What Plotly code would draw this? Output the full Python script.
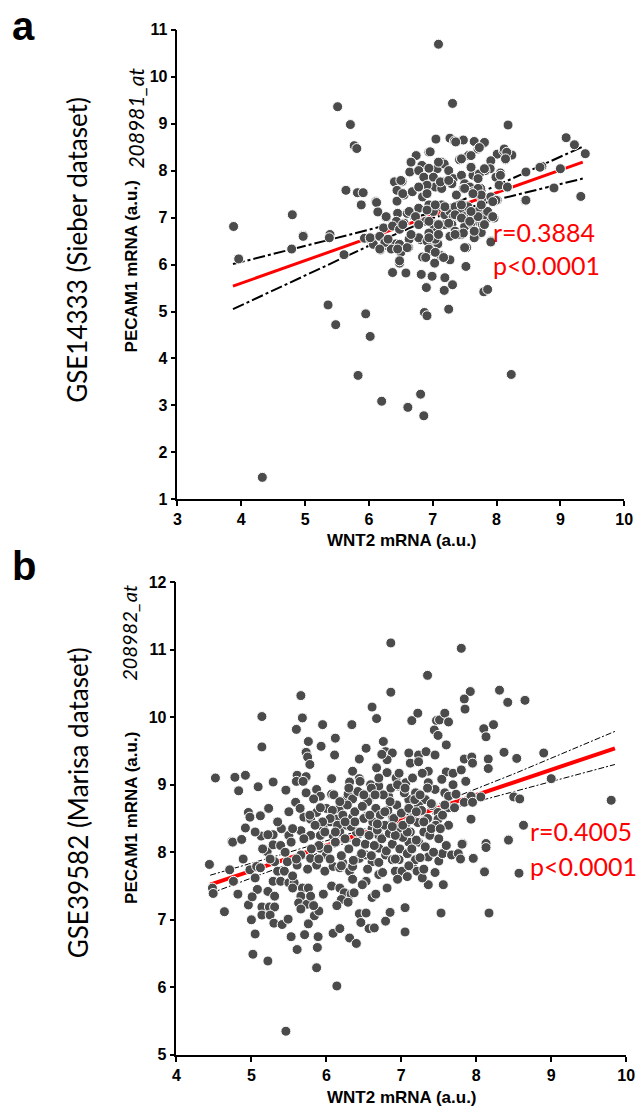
import plotly.graph_objects as go

# ---------------- Panel a: GSE14333 (Sieber dataset) ----------------
a_points = [
    (5.51, 9.36), (5.71, 8.98), (5.77, 8.53), (5.81, 8.47), (3.88, 6.81), (4.80, 7.06), (4.97, 6.62),
    (5.39, 6.64), (5.38, 6.57), (5.64, 7.58), (5.82, 7.53), (5.91, 7.53), (5.88, 7.27), (6.11, 7.34),
    (6.14, 7.13), (6.27, 7.00), (6.40, 7.76), (6.52, 7.77), (6.45, 7.57), (6.44, 7.35), (6.55, 7.48),
    (6.23, 6.78), (7.09, 10.69), (7.31, 9.43), (8.18, 8.97), (9.09, 8.70), (9.22, 8.55), (9.39, 8.36),
    (7.05, 8.67), (7.27, 8.69), (7.34, 8.63), (7.48, 8.65), (7.65, 8.62), (7.80, 8.58), (6.74, 8.32),
    (6.94, 8.39), (7.56, 8.32), (7.42, 8.23), (7.71, 8.46), (8.01, 8.35), (8.11, 8.42), (8.24, 8.33),
    (8.14, 8.23), (7.91, 8.21), (7.90, 8.04), (7.82, 8.00), (8.06, 7.95), (8.01, 7.83), (8.46, 7.97),
    (8.71, 8.09), (9.00, 8.04), (8.17, 7.64), (8.90, 7.63), (8.45, 7.36), (9.32, 7.45), (8.01, 7.37),
    (7.75, 7.62), (7.77, 7.41), (7.91, 7.00), (7.96, 6.99), (7.91, 6.50),
    (3.96, 6.12), (4.79, 6.33), (4.97, 6.60), (5.61, 6.21), (5.36, 5.14), (5.48, 4.72), (5.95, 4.95),
    (6.02, 4.47), (5.83, 3.64), (6.20, 3.09), (6.61, 2.96), (6.81, 3.24), (6.86, 2.78), (8.23, 3.66),
    (4.33, 1.47),
    (5.93, 6.56), (6.03, 6.53), (6.07, 6.43), (6.18, 6.31), (6.28, 6.40), (6.42, 6.44), (6.35, 6.33),
    (6.50, 6.26), (6.62, 6.36), (6.25, 6.53), (6.48, 6.03), (6.37, 5.83), (6.58, 5.82),
    (6.82, 5.79), (6.89, 6.16), (6.84, 6.16), (6.99, 5.75), (7.03, 6.03), (7.13, 6.19), (7.19, 5.72),
    (7.27, 6.10), (7.31, 5.57), (7.18, 5.45), (7.25, 5.05), (6.90, 5.51), (6.87, 4.98), (6.91, 4.91),
    (7.52, 5.96), (7.53, 6.36), (7.91, 6.48), (7.80, 5.42), (7.86, 5.47), (6.81, 6.53), (6.94, 6.48),
    (7.08, 6.44), (6.99, 6.28), (7.35, 6.64), (7.45, 6.64), (7.71, 6.64),
    # dense cluster
    (7.36, 8.61), (7.81, 8.60), (7.73, 8.49), (8.12, 8.46), (8.16, 8.39), (8.14, 8.25), (7.45, 8.25),
    (7.60, 8.32), (6.96, 8.40), (6.66, 8.18), (6.83, 8.11), (6.64, 7.97), (6.78, 8.00), (6.94, 8.04),
    (7.07, 8.04), (7.14, 8.18), (7.18, 8.14), (7.25, 8.00), (6.86, 7.86), (7.01, 7.86), (7.18, 7.76),
    (7.04, 7.65), (6.91, 7.69), (7.25, 7.79), (7.32, 7.83), (7.45, 7.90), (7.60, 8.07), (7.63, 7.90),
    (7.50, 7.72), (7.58, 7.65), (7.73, 7.93), (7.81, 8.04), (7.99, 7.86), (8.06, 7.90), (8.04, 7.69),
    (8.17, 7.65), (6.52, 7.77), (6.44, 7.58), (6.53, 7.51), (6.68, 7.55), (6.78, 7.65), (6.84, 7.44),
    (6.91, 7.51), (7.14, 7.62), (7.30, 7.72), (7.37, 7.48), (7.48, 7.62), (7.63, 7.55), (7.71, 7.62),
    (7.76, 7.48), (7.91, 7.44), (7.99, 7.37), (7.94, 7.34), (8.68, 8.07), (8.46, 7.37),
    (6.12, 7.32), (6.14, 7.12), (6.27, 7.02), (6.45, 7.09), (6.60, 7.09), (6.73, 7.02), (6.55, 6.88),
    (6.43, 6.92), (6.37, 6.82), (6.48, 6.75), (6.78, 7.20), (6.94, 7.27), (7.01, 7.13), (7.14, 7.27),
    (7.19, 7.06), (7.27, 7.13), (7.35, 7.23), (7.32, 7.02), (7.45, 7.13), (7.55, 7.23), (7.50, 7.02),
    (7.60, 7.06), (7.73, 7.16), (7.78, 7.02), (7.71, 6.92), (7.86, 7.13), (7.94, 7.02), (6.89, 6.92),
    (7.01, 6.85), (7.07, 6.71), (6.94, 6.67), (7.19, 6.85), (7.30, 6.85), (7.35, 6.71), (7.45, 6.64),
    (7.50, 6.81), (7.60, 6.88), (7.78, 6.85), (7.76, 6.68), (6.02, 6.57), (6.17, 6.60), (6.25, 6.47),
    (6.17, 6.33), (6.30, 6.54), (6.63, 6.54), (6.78, 6.57), (6.91, 6.50), (7.04, 6.54), (7.27, 6.60),
    (7.40, 6.64), (6.48, 6.43), (6.60, 6.36), (6.94, 6.33), (7.04, 6.26), (7.17, 6.15), (6.89, 6.15),
    (7.50, 6.36), (7.65, 6.57), (6.48, 6.08), (6.45, 6.33),
    (6.63, 7.13), (6.73, 7.02), (6.94, 6.92), (7.09, 6.85), (7.25, 6.88), (7.35, 7.06), (7.45, 6.99),
    (7.58, 6.92), (7.71, 7.02), (7.81, 6.85), (7.65, 6.71), (7.48, 6.67), (7.35, 6.64), (7.09, 6.64),
    (6.94, 6.57), (6.66, 6.64), (6.78, 6.85), (6.53, 6.85), (7.60, 7.13), (7.45, 7.27), (7.76, 7.27),
    (7.19, 7.23), (7.04, 7.27), (6.91, 7.16), (6.66, 8.18), (6.50, 7.79), (6.94, 8.05), (7.09, 8.18),
    (7.12, 7.76), (7.25, 7.79), (7.60, 8.07), (7.71, 7.83), (7.50, 7.62), (7.63, 7.51),
]
a_x = [p[0] for p in a_points]
a_y = [p[1] for p in a_points]

a_fit_x = [3.87, 5.0, 6.0, 7.0, 8.0, 9.35]
a_fit_y = [5.54, 6.08, 6.57, 7.05, 7.53, 8.18]
a_upper = [6.01, 6.40, 6.74, 7.11, 7.68, 8.51]
a_lower = [5.05, 5.76, 6.40, 6.99, 7.38, 7.83]

# ---------------- Panel b: GSE39582 (Marisa dataset) ----------------
b_points = [
    (6.86, 11.10), (6.86, 10.37), (5.66, 10.32), (5.14, 10.01), (5.68, 9.99), (6.61, 10.15), (6.67, 9.98),
    (5.95, 9.89), (6.34, 9.89), (5.60, 9.82), (5.14, 9.56), (5.76, 9.64), (5.93, 9.57), (6.12, 9.69),
    (6.11, 9.44), (5.73, 9.48), (5.75, 9.41), (5.78, 9.30), (6.53, 9.54), (6.76, 9.64), (6.79, 9.49),
    (6.88, 9.47), (6.81, 9.37), (6.74, 9.45), (6.44, 9.38), (6.35, 9.20), (6.44, 9.09), (6.31, 9.04),
    (6.07, 9.09), (4.52, 9.10), (4.78, 9.11), (4.92, 9.14), (5.29, 9.04), (4.83, 8.91), (5.09, 8.97),
    (5.61, 9.14), (5.73, 9.12), (5.60, 9.05), (5.69, 9.05), (5.46, 8.92), (5.59, 8.74), (5.73, 8.88),
    (5.87, 8.93), (5.92, 8.83), (6.07, 8.86), (6.27, 8.79), (6.29, 8.86), (6.44, 8.88), (6.59, 9.00),
    (6.67, 9.25), (6.81, 9.18), (6.93, 9.10), (5.23, 8.65), (4.96, 8.59), (4.98, 8.52), (5.12, 8.54),
    (4.92, 8.36), (4.74, 8.16), (4.87, 8.19), (5.40, 8.35), (5.50, 8.25), (5.29, 8.26), (5.13, 8.24),
    (5.22, 8.26), (5.70, 8.52), (5.79, 8.49), (5.87, 8.59), (6.00, 8.65), (6.17, 8.64), (6.35, 8.52),
    (6.53, 8.53), (6.66, 8.61), (6.79, 8.59), (6.88, 8.52), (6.14, 8.49), (6.05, 8.45), (5.92, 8.66),
    (5.83, 8.79), (5.66, 8.32), (5.79, 8.25), (5.96, 8.35), (6.09, 8.25), (6.27, 8.40), (6.40, 8.30),
    (6.61, 8.35), (6.70, 8.25), (6.83, 8.40), (6.96, 8.30), (5.92, 8.25), (6.18, 8.30), (6.35, 8.79),
    (6.70, 8.98), (6.83, 8.83), (6.57, 8.79), (6.96, 8.98),
    (7.80, 11.02), (7.35, 10.62), (7.92, 10.38), (7.84, 10.27), (7.85, 10.12), (8.31, 10.40), (8.42, 10.22),
    (8.65, 10.25), (7.14, 9.95), (7.22, 10.06), (7.47, 9.95), (7.51, 9.96), (7.58, 10.06), (7.63, 9.93),
    (7.44, 9.81), (7.49, 9.73), (8.10, 9.83), (8.23, 9.89), (8.13, 9.71), (7.60, 9.59), (7.10, 9.47),
    (7.23, 9.44), (7.33, 9.49), (7.45, 9.44), (7.12, 9.32), (7.23, 9.34), (7.84, 9.38), (7.94, 9.41),
    (7.95, 9.32), (8.16, 9.38), (8.37, 9.48), (8.54, 9.39), (8.90, 9.47), (8.16, 9.24), (7.36, 9.20),
    (7.60, 9.19), (7.69, 9.17), (7.80, 9.22), (9.00, 9.09), (9.80, 8.77), (7.54, 9.08), (7.69, 9.00),
    (7.86, 9.05), (7.58, 8.88), (7.63, 8.83), (7.73, 8.86), (8.06, 8.82), (7.93, 8.83), (7.84, 8.74),
    (7.95, 8.74), (8.50, 8.82), (8.58, 8.79), (6.97, 9.17), (7.06, 9.03), (7.15, 9.10), (7.28, 9.17),
    (7.36, 9.03), (7.45, 8.93), (7.19, 8.88), (7.10, 8.78), (7.32, 8.78), (7.23, 8.69), (7.41, 8.69),
    (7.49, 8.59), (7.63, 8.66), (7.71, 8.66), (7.36, 8.49), (7.49, 8.49), (7.63, 8.40), (7.93, 8.49),
    (7.45, 8.40), (8.43, 8.19), (8.63, 8.40), (7.82, 8.13), (8.13, 8.13),
    (4.44, 7.82), (4.48, 7.47), (4.49, 7.39), (4.64, 7.12), (4.71, 7.74), (4.76, 7.57), (4.82, 7.38),
    (4.89, 7.90), (4.75, 8.15), (4.87, 8.19), (4.96, 7.22), (5.00, 7.00), (5.05, 6.79), (5.02, 6.49),
    (5.22, 6.39), (4.98, 7.74), (5.07, 7.79), (5.12, 7.77), (5.05, 7.62), (5.08, 7.45), (5.01, 7.34),
    (5.22, 7.42), (5.31, 7.35), (5.14, 7.19), (5.24, 7.19), (5.31, 7.19), (5.14, 7.07), (5.25, 7.07),
    (5.30, 6.95), (5.41, 6.93), (5.49, 7.01), (5.53, 6.75), (5.61, 6.56), (5.71, 6.78), (5.76, 6.94),
    (5.84, 7.06), (5.90, 7.13), (5.89, 6.75), (5.88, 6.59), (5.87, 6.29), (6.14, 6.02), (5.46, 5.35),
    (5.21, 8.01), (5.29, 8.11), (5.39, 8.10), (5.53, 8.15), (5.31, 7.86), (5.35, 7.72), (5.44, 7.72),
    (5.29, 7.57), (5.39, 7.57), (5.50, 7.55), (5.57, 7.55), (5.55, 7.47), (5.68, 7.47), (5.76, 7.47),
    (5.66, 7.35), (5.63, 7.25), (5.74, 7.23), (5.79, 7.35), (5.66, 7.16), (5.83, 7.21), (5.48, 7.86),
    (5.61, 7.81), (5.66, 7.96), (5.79, 7.91), (5.92, 8.06), (6.00, 7.96), (5.87, 7.81), (5.98, 7.72),
    (6.09, 7.79), (6.18, 7.77), (6.22, 7.84), (6.31, 7.72), (6.35, 7.79), (6.44, 7.91), (6.53, 7.96),
    (6.61, 7.86), (6.70, 8.06), (6.79, 7.96), (6.88, 7.89), (6.92, 7.72), (5.96, 7.38), (6.07, 7.50),
    (6.18, 7.47), (6.24, 7.40), (6.33, 7.38), (6.37, 7.40), (6.20, 7.30), (6.14, 7.21), (6.29, 7.26),
    (6.44, 7.09), (6.53, 7.10), (6.46, 6.96), (6.57, 6.87), (6.64, 6.88), (6.79, 6.98), (6.85, 7.11),
    (6.61, 7.33), (6.66, 7.38), (6.81, 7.47), (6.53, 7.57), (6.48, 7.52), (6.70, 7.67), (6.09, 6.80),
    (6.18, 6.87), (6.31, 6.73), (6.40, 6.65),
    (7.81, 8.12), (8.13, 8.07), (8.43, 8.18), (7.36, 7.93), (7.50, 7.87), (7.55, 7.98), (7.67, 7.96),
    (7.76, 7.98), (7.79, 7.90), (7.96, 7.91), (8.11, 7.71), (8.57, 7.69), (7.36, 7.52), (7.56, 7.52),
    (7.05, 7.18), (7.53, 7.10), (8.17, 7.10), (7.05, 6.82), (6.97, 7.89), (7.01, 7.72), (7.08, 7.64),
    (7.15, 7.79), (7.21, 7.72), (7.28, 7.62), (7.10, 8.15), (7.23, 8.15), (7.19, 7.89),
    # dense core
    (6.02, 8.05), (6.08, 8.62), (6.12, 8.15), (6.15, 8.40), (6.20, 7.95), (6.22, 8.55), (6.25, 8.20),
    (6.28, 8.70), (6.30, 8.05), (6.33, 8.38), (6.36, 7.88), (6.38, 8.60), (6.40, 8.15), (6.42, 8.90),
    (6.45, 8.30), (6.47, 7.98), (6.50, 8.50), (6.52, 8.12), (6.55, 8.75), (6.57, 8.25), (6.60, 7.95),
    (6.62, 8.45), (6.64, 8.10), (6.66, 8.65), (6.68, 8.33), (6.70, 7.85), (6.72, 8.55), (6.74, 8.20),
    (6.76, 8.85), (6.78, 8.40), (6.80, 8.02), (6.82, 8.62), (6.84, 8.28), (6.86, 8.95), (6.88, 8.12),
    (6.90, 8.50), (6.92, 7.90), (6.94, 8.70), (6.96, 8.35), (6.98, 8.05), (7.00, 8.58), (7.02, 8.22),
    (7.04, 8.88), (7.06, 8.42), (7.08, 7.98), (7.10, 8.65), (7.12, 8.30), (7.14, 8.05), (7.16, 8.52),
    (7.18, 8.78), (7.20, 8.18), (7.22, 8.44), (7.25, 7.92), (7.27, 8.62), (7.30, 8.30), (7.32, 8.08),
    (7.35, 8.50), (7.38, 8.25), (7.40, 8.72), (7.43, 8.00), (7.46, 8.40), (7.50, 8.20), (7.55, 8.55),
    (7.60, 8.10), (6.10, 8.85), (6.18, 8.75), (6.30, 8.95), (6.45, 9.05), (6.60, 8.95), (6.70, 9.10),
    (6.85, 8.75), (6.95, 9.00), (7.05, 8.95), (7.15, 9.10), (7.25, 8.85), (7.35, 8.95), (6.05, 7.90),
    (6.20, 7.80), (6.35, 7.60), (6.55, 7.75), (6.75, 7.70), (6.95, 7.60), (7.10, 7.80), (7.30, 7.75),
    (7.45, 7.70), (6.65, 8.85), (6.50, 8.85), (6.38, 8.45), (6.58, 8.55), (6.78, 8.60), (6.92, 8.25),
    (7.08, 8.30), (7.20, 8.60), (7.30, 8.45), (7.40, 8.35), (7.52, 8.35), (7.58, 8.70), (6.48, 8.68),
    (6.68, 8.42), (6.88, 8.38), (7.02, 8.40), (7.12, 8.48), (6.25, 8.45), (6.12, 8.30), (6.05, 8.50),
    (5.98, 8.30), (5.90, 8.10), (5.95, 8.45), (5.45, 8.00), (5.55, 8.35), (5.60, 7.90), (5.70, 8.20),
    (5.75, 7.75), (5.80, 8.05), (5.85, 8.40), (5.90, 7.90), (5.35, 8.45), (5.25, 7.90), (5.15, 8.05),
    (5.05, 8.30), (5.55, 7.65), (5.65, 8.65), (5.50, 8.60), (5.78, 8.55),
]
b_x = [p[0] for p in b_points]
b_y = [p[1] for p in b_points]

b_fit_x = [4.45, 5.5, 6.5, 7.5, 8.5, 9.85]
b_fit_y = [7.52, 7.91, 8.29, 8.66, 9.03, 9.54]
b_upper = [7.66, 8.00, 8.34, 8.72, 9.16, 9.79]
b_lower = [7.39, 7.83, 8.24, 8.60, 8.90, 9.30]

W, H = 644, 1120
MARKER = "#4b4b4b"
BOLD = "Liberation Sans, Arial, sans-serif"
CAL = "Lato, Open Sans, sans-serif"

fig = go.Figure()

def add_panel(xref, yref, fx, fy, up, lo, px, py, band_w, band_dash, red_w):
    fig.add_trace(go.Scatter(x=fx, y=up, mode="lines", xaxis=xref, yaxis=yref,
                             line=dict(color="black", width=band_w, dash=band_dash), hoverinfo="skip"))
    fig.add_trace(go.Scatter(x=fx, y=lo, mode="lines", xaxis=xref, yaxis=yref,
                             line=dict(color="black", width=band_w, dash=band_dash), hoverinfo="skip"))
    fig.add_trace(go.Scatter(x=fx, y=fy, mode="lines", xaxis=xref, yaxis=yref,
                             line=dict(color="#ff0000", width=red_w), hoverinfo="skip"))
    fig.add_trace(go.Scatter(x=px, y=py, mode="markers", xaxis=xref, yaxis=yref,
                             marker=dict(size=10, color=MARKER, line=dict(color="white", width=1))))

add_panel("x", "y", a_fit_x, a_fit_y, a_upper, a_lower, a_x, a_y, 2, "12px,3px,3px,3px", 3)
add_panel("x2", "y2", b_fit_x, b_fit_y, b_upper, b_lower, b_x, b_y, 1, "6px,2px,2px,2px", 4)

def pxx(v):
    return v / W

def pyy(v):
    return 1 - v / H

axis_common = dict(showline=True, linecolor="black", linewidth=1.5, ticks="outside", ticklen=5,
                   tickwidth=1.5, tickcolor="black", showgrid=False, zeroline=False,
                   tickfont=dict(family=BOLD, size=16, color="black", weight="bold"), dtick=1)

fig.update_layout(
    width=W, height=H, margin=dict(l=0, r=0, t=0, b=0),
    paper_bgcolor="white", plot_bgcolor="white", showlegend=False,
    xaxis=dict(domain=[pxx(177), pxx(633)], range=[3, 10], anchor="y", **axis_common),
    yaxis=dict(domain=[pyy(499), pyy(22)], range=[1, 11], anchor="x", **axis_common),
    xaxis2=dict(domain=[pxx(176), pxx(635)], range=[4, 10], anchor="y2", **axis_common),
    yaxis2=dict(domain=[pyy(1063), pyy(583)], range=[5, 12], anchor="x2", **axis_common),
)

def ann(text, x, y, size, family, color="black", angle=0, xanchor="center", weight="normal", style="normal"):
    fig.add_annotation(text=text, x=pxx(x), y=pyy(y), xref="paper", yref="paper", showarrow=False,
                       textangle=angle, xanchor=xanchor, yanchor="middle",
                       font=dict(size=size, family=family, color=color, weight=weight, style=style))

# panel labels
ann("a", 6, 18, 40, BOLD, xanchor="left", weight="bold")
ann("b", 6, 567, 40, BOLD, xanchor="left", weight="bold")

# panel a texts
ann("GSE14333 (Sieber dataset)", 75, 245, 26, CAL, angle=-90)
ann("PECAM1 mRNA (a.u.)", 130, 262, 17, BOLD, angle=-90, weight="bold")
ann("208981_at", 134, 112, 21, CAL, angle=-90, style="italic")
ann("WNT2 mRNA (a.u.)", 406, 541, 17, BOLD, weight="bold")
ann("r=0.3884", 497, 227, 25, CAL, color="#ff0000", xanchor="left")
ann("p<0.0001", 497, 261, 25, CAL, color="#ff0000", xanchor="left")

# panel b texts
ann("GSE39582 (Marisa dataset)", 75, 807, 26, CAL, angle=-90)
ann("PECAM1 mRNA (a.u.)", 130, 822, 17, BOLD, angle=-90, weight="bold")
ann("208982_at", 128, 634, 20, CAL, angle=-90, style="italic")
ann("WNT2 mRNA (a.u.)", 406, 1106, 17, BOLD, weight="bold")
ann("r=0.4005", 535, 836, 25, CAL, color="#ff0000", xanchor="left")
ann("p<0.0001", 535, 871, 25, CAL, color="#ff0000", xanchor="left")

fig.write_html("out.html", config={"displayModeBar": False},
               post_script="document.body.style.margin='0';document.body.style.overflow='hidden';")
